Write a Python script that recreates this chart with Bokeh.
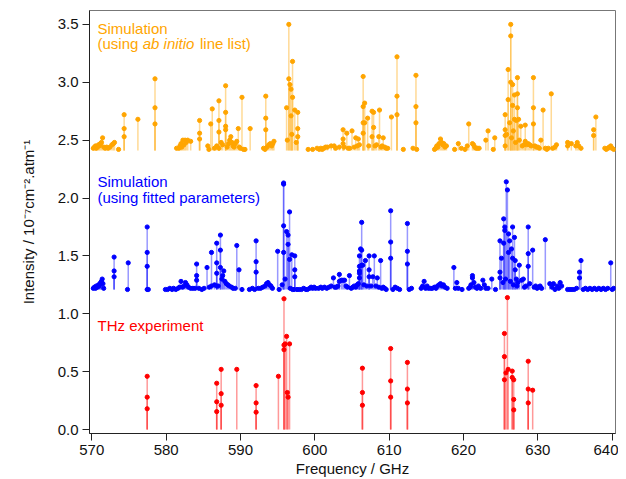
from bokeh.plotting import figure
from bokeh.models import Range1d, FixedTicker, Label, ColumnDataSource, NumeralTickFormatter
from bokeh.embed import file_html
from bokeh.resources import INLINE

# ---------------- data ----------------
abinitio_base = 2.41
fitted_base = 1.21
thz_base = 0.0

abinitio_freq = [
    570.2, 570.35, 570.5, 570.6, 570.75, 570.9, 571.0, 571.15, 571.3, 571.45, 571.6, 571.8, 572.0, 572.2, 572.45, 572.7, 572.9, 573.05, 573.6,
    574.35, 574.35, 574.35, 576.2, 578.5, 578.5, 578.5,
    581.4, 581.7, 581.85, 582.0, 582.1, 582.25, 582.4, 582.55, 582.7, 582.9, 583.3,
    584.5, 584.5, 584.5, 585.6, 585.75, 586.0, 586.2, 586.5, 586.8,
    587.1, 587.1, 587.1, 587.1, 587.4, 587.6,
    588.0, 588.0, 588.0, 588.0, 588.2, 588.4, 588.55, 588.7, 588.85, 589.0, 589.15, 589.3, 589.5,
    589.7, 589.85, 590.0, 590.2, 590.4, 590.6, 591.3,
    593.1, 593.3, 593.4, 593.4, 593.4, 593.6, 593.8, 594.0, 594.2, 594.35, 594.5,
    596.2, 596.3, 596.5, 596.5, 596.65, 596.8, 596.8, 596.9, 597.0, 597.0, 597.3, 597.5, 597.7, 597.7, 597.7,
    599.1, 599.7, 600.3, 600.6, 600.8, 601.0, 601.2, 601.45, 601.7, 602.2, 602.6, 602.8, 603.3,
    603.8, 603.8, 603.8, 603.95, 604.3, 604.5, 604.7, 605.0, 605.3, 605.5, 605.7, 605.85, 606.0,
    606.5, 606.5, 606.5, 606.5, 606.7, 606.7, 607.1, 607.25, 607.7, 607.7, 607.9, 607.9,
    608.1, 608.3, 608.6, 608.7, 608.9, 609.05, 609.2, 609.4, 609.6, 609.8, 610.3,
    611.05, 611.05, 611.05, 611.9, 613.2, 613.6, 613.6, 613.6, 613.7,
    616.1, 616.25, 616.4, 616.55, 616.7, 616.9, 617.05, 617.2, 617.35, 617.5, 617.7,
    618.8, 619.3, 619.7, 620.2, 620.5, 620.7, 621.2, 621.35, 621.5, 621.7, 621.9, 622.1,
    623.0, 623.3, 624.0, 624.2,
    625.6, 625.6, 625.6, 625.6, 625.8, 626.0, 626.0, 626.2, 626.35, 626.35, 626.35, 626.45,
    626.6, 626.6, 626.7, 626.85, 626.85, 627.0, 627.1, 627.25, 627.25, 627.25, 627.4, 627.5, 627.7,
    627.9, 628.1, 628.3, 628.3, 628.5, 628.7, 628.9, 629.1,
    629.4, 629.4, 629.4, 629.6, 629.8, 630.0, 630.2, 630.4, 630.7, 631.0, 631.2, 631.4, 631.8, 632.0, 632.3, 632.5,
    634.0, 634.0, 634.5, 635.1, 635.3, 635.5, 635.8, 637.5, 637.5, 637.8,
    639.0, 639.2, 639.4, 639.6, 639.8, 640.0, 640.2,
]
abinitio_int = [
    2.43, 2.44, 2.45, 2.43, 2.44, 2.46, 2.45, 2.47, 2.48, 2.52, 2.44, 2.43, 2.44, 2.43, 2.44, 2.46, 2.47, 2.48, 2.42,
    2.72, 2.60, 2.53, 2.68, 3.03, 2.78, 2.64,
    2.43, 2.43, 2.45, 2.47, 2.44, 2.50, 2.46, 2.50, 2.48, 2.50, 2.49,
    2.67, 2.56, 2.51, 2.45, 2.42, 2.64, 2.77, 2.43, 2.45,
    2.84, 2.67, 2.57, 2.43, 2.48, 2.46,
    2.97, 2.74, 2.62, 2.59, 2.44, 2.47, 2.50, 2.53, 2.48, 2.45, 2.44, 2.47, 2.49,
    2.60, 2.44, 2.43, 2.87, 2.42, 2.42, 2.60,
    2.43, 2.42, 2.88, 2.69, 2.59, 2.44, 2.46, 2.47, 2.45, 2.47, 2.49,
    2.78, 2.50, 3.50, 3.03, 2.98, 2.94, 2.71, 2.55, 3.18, 2.87, 2.76, 2.48, 2.74, 2.60, 2.53,
    2.42, 2.42, 2.43, 2.42, 2.43, 2.42, 2.43, 2.44, 2.44, 2.45, 2.45, 2.43, 2.44,
    2.59, 2.51, 2.47, 2.44, 2.56, 2.43, 2.43, 2.58, 2.44, 2.52, 2.45, 2.51, 2.46,
    3.05, 2.79, 2.65, 2.56, 2.82, 2.65, 2.69, 2.45, 2.75, 2.53, 2.74, 2.61,
    2.45, 2.46, 2.53, 2.76, 2.44, 2.45, 2.52, 2.44, 2.43, 2.43, 2.70,
    3.22, 2.88, 2.72, 2.42, 2.43, 3.06, 2.79, 2.65, 2.42,
    2.42, 2.43, 2.45, 2.44, 2.47, 2.51, 2.48, 2.46, 2.47, 2.44, 2.45,
    2.42, 2.47, 2.43, 2.42, 2.45, 2.64, 2.47, 2.46, 2.44, 2.43, 2.43, 2.43,
    2.50, 2.58, 2.42, 2.52,
    2.72, 2.59, 2.54, 2.45, 2.55, 3.11, 2.85, 2.65, 3.50, 3.40, 3.00, 2.52,
    2.98, 2.80, 2.58, 2.89, 2.68, 2.48, 2.67, 3.04, 2.90, 2.78, 2.68, 2.50, 2.62,
    2.45, 2.46, 2.63, 2.49, 2.46, 2.47, 2.46, 2.45,
    3.04, 2.78, 2.64, 2.45, 2.44, 2.44, 2.43, 2.50, 2.76, 2.43, 2.42, 2.43, 2.90, 2.43, 2.44, 2.46,
    2.48, 2.45, 2.47, 2.45, 2.48, 2.45, 2.43, 2.59, 2.54, 2.70,
    2.43, 2.42, 2.43, 2.44, 2.45, 2.43, 2.42,
]

fitted_freq = [
    570.2, 570.35, 570.5, 570.6, 570.75, 570.9, 571.0, 571.1, 571.2, 571.3, 571.4, 571.5, 571.6,
    573.0, 573.0, 573.0, 574.8, 574.9, 577.45, 577.45, 577.45, 577.45, 577.6,
    579.9, 580.2, 580.5, 580.8, 581.0, 581.3, 581.6, 581.8, 582.0, 582.2, 582.4, 582.6, 582.8, 583.0, 583.3, 583.6, 583.9,
    584.1, 584.1, 584.1, 584.4, 584.8, 585.1, 585.5, 585.8, 586.1, 586.1, 586.5,
    586.8, 586.8, 586.8, 586.8, 587.0, 587.3, 587.3, 587.3,
    587.5, 587.6, 587.75, 587.9, 588.1, 588.3, 588.5, 588.8, 589.0, 589.3, 589.5, 589.8,
    590.2, 591.2, 591.6, 591.9, 592.1, 592.1, 592.1,
    592.4, 592.7, 593.0, 593.3, 593.5, 593.7, 593.9, 594.1, 594.3, 595.0, 595.2,
    595.6, 595.8, 595.8, 595.8, 595.8, 596.0, 596.2, 596.4, 596.4, 596.6, 596.6, 596.7, 596.9, 597.0, 597.2, 597.3, 597.3, 597.3,
    597.6, 597.9, 598.2, 598.5, 598.8, 599.0, 599.3, 599.5, 599.7, 599.9, 600.1, 600.5, 600.8, 601.0, 601.3, 601.6, 601.9, 602.2,
    602.5, 602.7, 602.9, 603.1, 603.3, 603.3, 603.6, 603.8, 604.0, 604.2, 604.4, 604.65,
    604.9, 605.1, 605.3, 605.5, 605.7, 605.85,
    606.0, 606.0, 606.0, 606.0, 606.0, 606.15, 606.3, 606.3, 606.3, 606.45, 606.6, 606.8, 607.0,
    607.3, 607.3, 607.3, 607.55, 607.8, 608.0, 608.2, 608.4, 608.6, 608.85,
    609.0, 609.2, 609.4, 609.6, 610.2, 610.2, 610.2, 610.5, 610.8, 611.1, 611.4,
    612.45, 612.45, 612.45, 612.7, 613.0,
    614.3, 614.5, 614.7, 614.9, 615.1, 615.3, 615.6, 615.8, 616.1, 616.3, 616.5, 616.7, 616.9, 617.1, 617.3, 617.5, 617.8,
    618.7, 618.9, 619.1, 619.3, 619.8, 620.7, 620.9, 621.0, 621.2, 621.2, 621.4, 621.6, 621.8, 622.0, 622.3,
    622.6, 622.8, 623.0, 623.3, 623.8, 624.3,
    624.9, 624.9, 624.9, 625.1, 625.3, 625.4, 625.4, 625.55, 625.55, 625.65, 625.75, 625.9, 626.05, 626.05, 626.2, 626.3,
    626.45, 626.6, 626.6, 626.7, 626.85, 626.95, 626.95, 627.1, 627.2, 627.3, 627.5, 627.8, 628.05, 628.2, 628.4,
    628.7, 628.7, 628.7, 628.9, 629.3, 629.5, 629.7, 629.9, 630.1, 630.3, 630.5, 631.0,
    631.6, 631.9, 632.1, 632.3, 632.6, 632.8, 633.0, 633.2, 634.0, 634.3, 634.6, 634.9, 635.2,
    635.6, 635.6, 635.8, 636.1, 636.4, 636.7, 637.0, 637.3, 637.6, 637.9, 638.2, 638.5, 638.8, 639.1, 639.4, 639.8, 640.0, 640.2,
]
fitted_int = [
    1.22, 1.23, 1.22, 1.24, 1.23, 1.25, 1.24, 1.26, 1.27, 1.28, 1.30, 1.26, 1.22,
    1.49, 1.37, 1.32, 1.21, 1.44, 1.75, 1.53, 1.41, 1.21, 1.21,
    1.21, 1.21, 1.22, 1.21, 1.22, 1.21, 1.22, 1.23, 1.28, 1.23, 1.24, 1.27, 1.25, 1.23, 1.22, 1.22, 1.22,
    1.43, 1.33, 1.29, 1.22, 1.21, 1.22, 1.40, 1.23, 1.53, 1.24, 1.25,
    1.61, 1.44, 1.35, 1.24, 1.24, 1.68, 1.55, 1.40,
    1.30, 1.33, 1.37, 1.28, 1.26, 1.25, 1.24, 1.23, 1.22, 1.22, 1.59, 1.38,
    1.21, 1.21, 1.22, 1.21, 1.63, 1.45, 1.36,
    1.22, 1.22, 1.23, 1.24, 1.26, 1.27, 1.25, 1.24, 1.22, 1.54, 1.21,
    1.25, 2.13, 2.12, 1.76, 1.53, 1.30, 1.71, 1.68, 1.60, 1.88, 1.47, 1.22, 1.51, 1.21, 1.21, 1.50, 1.38, 1.32,
    1.21, 1.21, 1.21, 1.22, 1.21, 1.21, 1.22, 1.23, 1.22, 1.23, 1.22, 1.22, 1.23, 1.22, 1.23, 1.22, 1.23, 1.24,
    1.31, 1.23, 1.23, 1.24, 1.34, 1.28, 1.29, 1.29, 1.29, 1.24, 1.23, 1.33,
    1.22, 1.23, 1.24, 1.23, 1.25, 1.26,
    1.50, 1.41, 1.37, 1.35, 1.31, 1.56, 1.79, 1.55, 1.42, 1.42, 1.25, 1.46, 1.24,
    1.50, 1.38, 1.32, 1.24, 1.32, 1.50, 1.24, 1.31, 1.23, 1.46,
    1.22, 1.23, 1.22, 1.21, 1.89, 1.62, 1.48, 1.21, 1.23, 1.22, 1.21,
    1.78, 1.54, 1.43, 1.21, 1.22,
    1.22, 1.24, 1.28, 1.22, 1.24, 1.22, 1.22, 1.22, 1.23, 1.22, 1.24, 1.25, 1.26, 1.24, 1.25, 1.23, 1.22,
    1.40, 1.22, 1.27, 1.22, 1.21, 1.22, 1.23, 1.25, 1.33, 1.31, 1.27, 1.23, 1.22, 1.24, 1.22,
    1.29, 1.25, 1.22, 1.22, 1.30, 1.21,
    1.63, 1.36, 1.31, 1.48, 1.27, 1.82, 1.61, 1.75, 1.72, 1.30, 2.14, 2.07, 1.69, 1.53, 1.63, 1.28,
    1.56, 1.75, 1.48, 1.25, 1.66, 1.46, 1.38, 1.30, 1.24, 1.27, 1.42, 1.29, 1.30, 1.23, 1.24,
    1.75, 1.52, 1.41, 1.26, 1.55, 1.23, 1.24, 1.22, 1.23, 1.24, 1.22, 1.64,
    1.26, 1.23, 1.26, 1.21, 1.24, 1.22, 1.27, 1.24, 1.21, 1.21, 1.21, 1.21, 1.22,
    1.36, 1.31, 1.46, 1.21, 1.22, 1.21, 1.22, 1.21, 1.22, 1.21, 1.22, 1.21, 1.22, 1.21, 1.22, 1.44, 1.21, 1.22,
]

thz_freq = [577.45, 577.45, 577.45, 586.8, 586.8, 586.8, 587.4, 587.4, 587.4, 589.5,
            592.1, 592.1, 592.1, 595.1, 595.85, 595.85, 595.85, 596.0, 596.2, 596.3, 596.4, 596.6,
            606.4, 606.4, 606.4, 610.2, 610.2, 610.2, 612.45, 612.45, 612.45,
            625.5, 625.5, 625.5, 625.7, 625.9, 626.0, 626.55, 626.55, 626.75, 626.75, 626.75,
            628.7, 628.7, 628.7, 629.3]
thz_int = [0.46, 0.28, 0.18, 0.40, 0.24, 0.155, 0.52, 0.31, 0.21, 0.52,
           0.38, 0.23, 0.15, 0.46, 1.13, 0.73, 0.69, 0.74, 0.805, 0.32, 0.28, 0.74,
           0.53, 0.32, 0.21, 0.70, 0.42, 0.28, 0.58, 0.35, 0.23,
           0.83, 0.63, 0.43, 0.49, 1.14, 0.52, 0.505, 0.45, 0.43, 0.26, 0.17,
           0.59, 0.35, 0.23, 0.34]

y_ticks = [0.0, 0.5, 1.0, 1.5, 2.0, 2.5, 3.0, 3.5]
x_ticks = [570, 580, 590, 600, 610, 620, 630, 640]

assert len(abinitio_freq) == len(abinitio_int), (len(abinitio_freq), len(abinitio_int))
assert len(fitted_freq) == len(fitted_int), (len(fitted_freq), len(fitted_int))
assert len(thz_freq) == len(thz_int)

FONT = "Liberation Sans"

p = figure(width=618, height=479, output_backend="svg", toolbar_location=None,
           x_range=Range1d(569.69, 640.44), y_range=Range1d(-0.034, 3.62),
           min_border_left=89, min_border_right=3, min_border_top=10, min_border_bottom=45)
p.background_fill_color = "white"
p.border_fill_color = "white"
p.outline_line_color = "#777777"
p.outline_line_width = 1
p.xgrid.visible = False
p.ygrid.visible = False

series = [
    (abinitio_freq, abinitio_int, abinitio_base, "#FFA500", "#FFB52E"),
    (fitted_freq, fitted_int, fitted_base, "#0000FF", "#3333FF"),
    (thz_freq, thz_int, thz_base, "#FF0000", "#FF3333"),
]
for fx, fy, base, col, lcol in series:
    src = ColumnDataSource(dict(x=fx, y=fy, b=[base] * len(fx)))
    p.segment(x0="x", y0="b", x1="x", y1="y", source=src, line_color=lcol,
              line_alpha=0.5, line_width=1.5)
    p.scatter(x="x", y="y", source=src, size=4.2, fill_color=col, line_color=col,
              marker="circle")

# axes
for ax in (p.xaxis[0], p.yaxis[0]):
    ax.axis_line_color = "#222222"
    ax.major_tick_line_color = "#222222"
    ax.major_tick_out = 7
    ax.major_tick_in = 0
    ax.minor_tick_line_color = None
    ax.major_label_text_font = FONT
    ax.major_label_text_font_size = "15px"
    ax.major_label_text_color = "#111111"
    ax.axis_label_text_font = FONT
    ax.axis_label_text_font_size = "15px"
    ax.axis_label_text_font_style = "normal"
    ax.axis_label_text_color = "#111111"

p.xaxis.ticker = FixedTicker(ticks=x_ticks)
p.yaxis.ticker = FixedTicker(ticks=y_ticks)
p.yaxis.formatter = NumeralTickFormatter(format="0.0")
p.xaxis.axis_label = "Frequency / GHz"
p.yaxis.axis_label = "Intensity / 10\u207b\u2077cm\u207b\u00b2.atm\u207b\u00b9"
p.xaxis.major_label_standoff = 4
p.xaxis.axis_label_standoff = 2
p.yaxis.major_label_standoff = 4
p.yaxis.axis_label_standoff = 18

# annotations
def add_label(x, y, text, color, style="normal"):
    p.add_layout(Label(x=x, y=y, text=text, text_color=color, text_font=FONT,
                       text_font_size="15px", text_font_style=style,
                       text_baseline="alphabetic", text_align="left"))

add_label(570.77, 3.468, "Simulation", "#FFA500")
add_label(570.77, 3.334, "(using ", "#FFA500")
add_label(576.85, 3.334, "ab initio", "#FFA500", "italic")
add_label(584.55, 3.334, "line list)", "#FFA500")
add_label(570.77, 2.140, "Simulation", "#0000FF")
add_label(570.77, 2.006, "(using fitted parameters)", "#0000FF")
add_label(570.77, 0.899, "THz experiment", "#FF0000")

open("out.html", "w").write(file_html(p, INLINE))
